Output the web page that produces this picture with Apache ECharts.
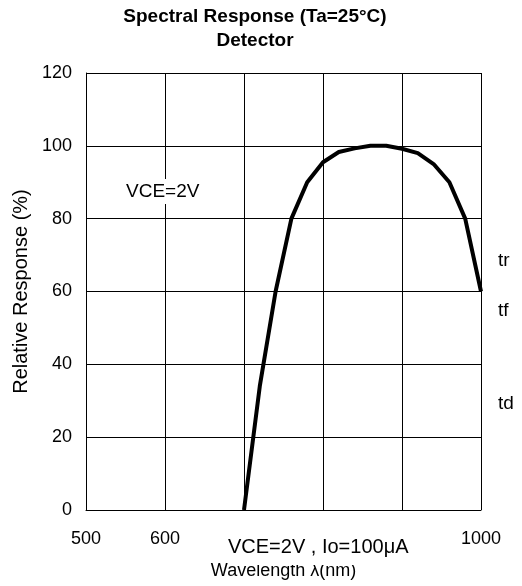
<!DOCTYPE html>
<html>
<head>
<meta charset="utf-8">
<script src="https://cdn.jsdelivr.net/npm/echarts@6/dist/echarts.min.js"></script>
<style>
html,body{margin:0;padding:0;background:#fff;}
#c{width:522px;height:586px;}
</style>
</head>
<body>
<div id="c"></div>
<script>
const wavelengths = [700, 720, 740, 760, 780, 800, 820, 840, 860, 880, 900, 920, 940, 960, 980, 1000];
const response = [0, 34, 60, 80, 90, 95.5, 98.3, 99.3, 100, 100, 99.2, 98, 95, 90, 80, 60];
const xTickLabels = {500: '500', 600: '600', 1000: '1000'};
const titleLines = ['Spectral Response (Ta=25°C)', 'Detector'];
const sideLabels = ['tr', 'tf', 'td'];

const FONT = '"Liberation Sans", Arial, Helvetica, sans-serif';
const chart = echarts.init(document.getElementById('c'));
chart.setOption({
  animation: false,
  backgroundColor: '#fff',
  title: {
    text: titleLines.join('\n'),
    left: 250, top: 0, textAlign: 'center',
    textStyle: {fontFamily: FONT, fontSize: 19, fontWeight: 'bold', color: '#000', lineHeight: 24, align: 'center'}
  },
  grid: {left: 86, right: 41, top: 73, bottom: 76, outerBoundsMode: 'none', containLabel: false},
  xAxis: {
    type: 'value', min: 500, max: 1000, interval: 100,
    name: 'Wavelength λ(nm)', nameLocation: 'middle', nameGap: 52,
    nameTextStyle: {fontFamily: FONT, fontSize: 18, color: '#000'},
    axisLine: {show: true, lineStyle: {color: '#000', width: 1}},
    axisTick: {show: false},
    axisLabel: {fontFamily: FONT, fontSize: 18, color: '#000', margin: 20,
      formatter: v => xTickLabels[v] || ''},
    splitLine: {show: true, lineStyle: {color: '#000', width: 1}}
  },
  yAxis: {
    type: 'value', min: 0, max: 120, interval: 20,
    name: 'Relative Response (%)', nameLocation: 'middle', nameGap: 38, nameRotate: 90,
    nameTextStyle: {fontFamily: FONT, fontSize: 20, color: '#000'},
    axisLine: {show: true, lineStyle: {color: '#000', width: 1}},
    axisTick: {show: false},
    axisLabel: {fontFamily: FONT, fontSize: 18, color: '#000', margin: 14},
    splitLine: {show: true, lineStyle: {color: '#000', width: 1}}
  },
  graphic: [
    {type: 'text', left: 126, top: 179, z: 100,
      style: {text: 'VCE=2V', font: '19px ' + FONT, fill: '#000', backgroundColor: '#fff', padding: [3, 0, 3, 0]}},
    {type: 'text', left: 228, top: 535, z: 100,
      style: {text: 'VCE=2V , Io=100μA', font: '20px ' + FONT, fill: '#000', backgroundColor: '#fff', padding: [2, 0, 8, 0]}},
    {type: 'text', left: 498, top: 251, z: 100, style: {text: sideLabels[0], font: '19px ' + FONT, fill: '#000'}},
    {type: 'text', left: 498, top: 301, z: 100, style: {text: sideLabels[1], font: '19px ' + FONT, fill: '#000'}},
    {type: 'text', left: 498, top: 394, z: 100, style: {text: sideLabels[2], font: '19px ' + FONT, fill: '#000'}}
  ],
  series: [{
    type: 'line',
    data: wavelengths.map((w, i) => [w, response[i]]),
    symbol: 'none',
    lineStyle: {color: '#000', width: 4, join: 'round'},
    z: 5
  }]
});
</script>
</body>
</html>
